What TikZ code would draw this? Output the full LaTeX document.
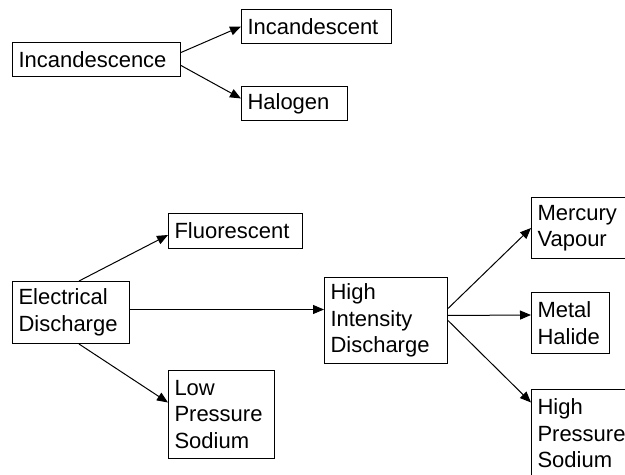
\documentclass[tikz,border=0pt]{standalone}
\usepackage{fontspec}
\setmainfont{Liberation Sans}
\usetikzlibrary{arrows.meta,positioning}

\begin{document}
\begin{tikzpicture}[x=0.5pt,y=-0.5pt,line width=0.5pt,
>={Triangle[length=5.5pt,width=4.5pt]}]
\tikzstyle{lamp}=[draw, rectangle, anchor=north west,
align=left, inner xsep=3pt, inner ysep=0pt,
font=\fontsize{11}{13.25}\selectfont]
\useasboundingbox (0,0) rectangle (625,475);
\clip (0,0) rectangle (625,475);

% incandescence group
\node[lamp,text width=78pt,minimum height=17pt] at (12,42) (inc) {Incandescence};
\node[lamp,text width=69pt,minimum height=17pt] at (241,9) (inct) {Incandescent};
\node[lamp,text width=47pt,minimum height=17pt] at (241,86) (hal) {Halogen};

% discharge group
\node[lamp,text width=61pt,minimum height=17.5pt] at (168,213) (flu) {Fluorescent};
\node[lamp,text width=52.5pt,minimum height=31pt] at (12,281) (ed) {Electrical\\Discharge};
\node[lamp,text width=47pt,minimum height=44pt] at (168,370) (lps) {Low\\Pressure\\Sodium};
\node[lamp,text width=55.5pt,minimum height=43pt] at (324,277) (hid) {High\\Intensity\\Discharge};
\node[lamp,text width=48pt,minimum height=30.5pt] at (531,197) (mv) {Mercury\\Vapour};
\node[lamp,text width=33pt,minimum height=30.5pt] at (531,292) (mh) {Metal\\Halide};
\node[lamp,text width=47pt,minimum height=44pt] at (531,389) (hps) {High\\Pressure\\Sodium};

\path[->] ([yshift=3.5pt]inc.east) edge (inct.west) ;
\path[->] ([yshift=-3pt]inc.east) edge ([yshift=2.5pt]hal.west) ;
\path[->] ([xshift=4pt]ed.north) edge ([yshift=-2pt]flu.west) ;
\path[->] ([yshift=1.5pt]ed.east) edge ([yshift=5.5pt]hid.west) ;
\path[->] ([xshift=4pt]ed.south) edge ([yshift=6pt]lps.west) ;
\path[->] ([yshift=6pt]hid.east) edge (mv.west) ;
\path[->] ([yshift=2.5pt]hid.east) edge ([yshift=4pt]mh.west) ;
\path[->] (hid.east) edge ([yshift=15.5pt]hps.west) ;

\end{tikzpicture}
\end{document}
